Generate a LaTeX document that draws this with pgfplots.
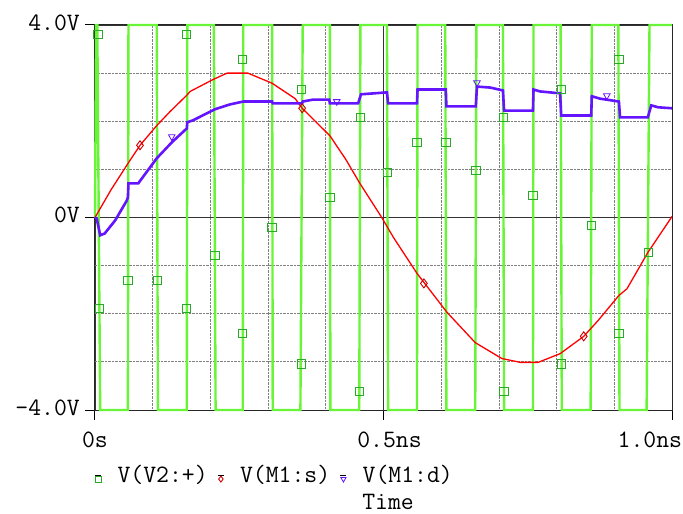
\documentclass[border=0pt]{standalone}
\usepackage{pgfplots}
\pgfplotsset{compat=1.18}

\definecolor{sqgreen}{RGB}{105,245,55}
\definecolor{mkgreen}{RGB}{40,170,40}
\definecolor{pred}{RGB}{255,0,0}
\definecolor{pblue}{RGB}{100,20,255}
\newcommand{\ps}{\ttfamily\fontsize{25}{29}\selectfont}

% small legend symbol, drawn a bit below the text centre
\pgfplotsset{legmark/.style={legend image code/.code={%
  \path (-3pt,0pt) -- (3pt,0pt);
  \draw[##1, mark size=3pt] plot coordinates {(0pt,-4pt)};}}}

\begin{document}
\begin{tikzpicture}
\useasboundingbox (-95pt,-104pt) rectangle (588pt,410pt);
\begin{axis}[
    at={(0pt,0pt)}, anchor=south west,
    scale only axis,
    width=577pt, height=385pt,
    xmin=0, xmax=1, ymin=-4, ymax=4,
    clip=false,
    axis line style={black!85, line width=1pt},
    xtick={0,0.5,1},
    xticklabels={0s,\hspace*{12pt}0.5ns,\makebox[0pt][r]{1.0ns\hspace*{-10pt}}},
    ytick={-4,0,4},
    yticklabels={-4.0V,0V,4.0V},
    minor xtick={0.1,0.2,0.3,0.4,0.6,0.7,0.8,0.9},
    minor ytick={-3,-2,-1,1,2,3},
    grid=both,
    major grid style={black!80, line width=0.9pt},
    minor grid style={gray, densely dotted, line width=0.8pt},
    tick pos=left,
    tick align=outside,
    major tick length=10pt,
    minor tick length=0pt,
    tick style={black, line width=1pt},
    /pgf/number format/assume math mode=true,
    every tick label/.append style={font=\ps},
    xticklabel style={anchor=north, inner sep=0pt, yshift=-12pt},
    yticklabel style={anchor=east, inner sep=0pt, xshift=-5pt, yshift=2.5pt},
    xlabel={Time},
    xlabel style={font=\ps, at={(axis description cs:0.508,-0.238)}, anchor=center, inner sep=0pt},
    legend columns=3,
    legend style={font=\ps, draw=none, fill=none, inner sep=0pt,
      at={(axis description cs:0.0,-0.169)}, anchor=west,
      nodes={inner sep=0pt},
      /tikz/every odd column/.append style={column sep=16pt},
      /tikz/every even column/.append style={column sep=10pt}},
  ]

% V(V2:+) pulse source
\addplot[sqgreen, line width=2.4pt, forget plot] coordinates {
  (0,0) (0.002,4) (0.004,4) (0.009,-4)
  (0.057,-4) (0.058,4) (0.107,4) (0.109,-4)
  (0.159,-4) (0.160,4) (0.206,4) (0.209,-4)
  (0.256,-4) (0.257,4) (0.307,4) (0.308,-4)
  (0.356,-4) (0.360,4) (0.407,4) (0.408,-4)
  (0.458,-4) (0.460,4) (0.506,4) (0.508,-4)
  (0.558,-4) (0.559,4) (0.607,4) (0.609,-4)
  (0.659,-4) (0.661,4) (0.707,4) (0.709,-4)
  (0.759,-4) (0.760,4) (0.807,4) (0.809,-4)
  (0.859,-4) (0.861,4) (0.907,4) (0.909,-4)
  (0.956,-4) (0.961,4) (1.0,4)};
\addplot[only marks, mark=square, mark size=4.2pt, mark options={draw=mkgreen, line width=1pt, fill=none}, legmark]
  coordinates {
  (0.005,3.80) (0.008,-1.89) (0.057,-1.31) (0.108,-1.31) (0.159,3.80)
  (0.159,-1.89) (0.208,-0.79) (0.256,3.28) (0.256,-2.41) (0.307,-0.21)
  (0.358,2.66) (0.358,-3.04) (0.407,0.42) (0.458,-3.62) (0.460,2.08)
  (0.507,0.94) (0.558,1.56) (0.608,1.56) (0.660,0.98) (0.708,2.08)
  (0.709,-3.62) (0.759,0.46) (0.808,2.66) (0.808,-3.04) (0.860,-0.17)
  (0.908,3.28) (0.908,-2.41) (0.959,-0.73)};
\addlegendentry{V(V2:+)}

% V(M1:s)
\addplot[pred, line width=1.3pt, forget plot] coordinates {
  (0,0) (0.028,0.58) (0.057,1.12) (0.078,1.50) (0.107,1.91) (0.130,2.20)
  (0.159,2.54) (0.165,2.62) (0.205,2.87) (0.229,3.0) (0.265,3.0)
  (0.307,2.79) (0.347,2.47) (0.359,2.27) (0.407,1.70) (0.435,1.20)
  (0.459,0.71) (0.497,0) (0.517,-0.41) (0.558,-1.16) (0.610,-1.97)
  (0.659,-2.60) (0.705,-2.93) (0.737,-3.01) (0.768,-3.01) (0.806,-2.83)
  (0.847,-2.47) (0.872,-2.14) (0.908,-1.62) (0.922,-1.48) (0.958,-0.73)
  (1.0,0.02)};
\addplot[only marks, mark=diamond, mark size=4.5pt, mark options={draw=pred!80!black, line width=0.9pt, fill=none}, legmark]
  coordinates {(0.078,1.50) (0.359,2.27) (0.570,-1.37) (0.847,-2.47)};
\addlegendentry{V(M1:s)}

% V(M1:d)
\addplot[pblue, line width=2.6pt, forget plot] coordinates {
  (0,0) (0.003,-0.02) (0.009,-0.37) (0.017,-0.33) (0.031,-0.12)
  (0.035,-0.06) (0.055,0.35) (0.057,0.42) (0.058,0.71) (0.075,0.71)
  (0.107,1.23) (0.133,1.56) (0.159,1.85) (0.160,1.98) (0.170,2.02)
  (0.208,2.25) (0.234,2.35) (0.257,2.41) (0.307,2.41) (0.308,2.37)
  (0.359,2.37) (0.360,2.41) (0.378,2.45) (0.406,2.45) (0.407,2.37)
  (0.456,2.37) (0.461,2.56) (0.506,2.60) (0.508,2.37) (0.558,2.37)
  (0.559,2.66) (0.608,2.66) (0.609,2.31) (0.660,2.31) (0.662,2.72)
  (0.685,2.70) (0.707,2.64) (0.709,2.22) (0.759,2.22) (0.760,2.66)
  (0.771,2.62) (0.806,2.58) (0.808,2.12) (0.860,2.12) (0.861,2.52)
  (0.875,2.47) (0.908,2.41) (0.910,2.08) (0.958,2.08) (0.964,2.33)
  (0.976,2.29) (1.0,2.27)};
\addplot[only marks, mark=triangle, mark size=3.8pt, mark options={draw=pblue, rotate=180, line width=0.8pt, fill=none}, legmark]
  coordinates {(0.133,1.68) (0.419,2.41) (0.662,2.80) (0.887,2.53)};
\addlegendentry{V(M1:d)}

\end{axis}
\end{tikzpicture}
\end{document}
